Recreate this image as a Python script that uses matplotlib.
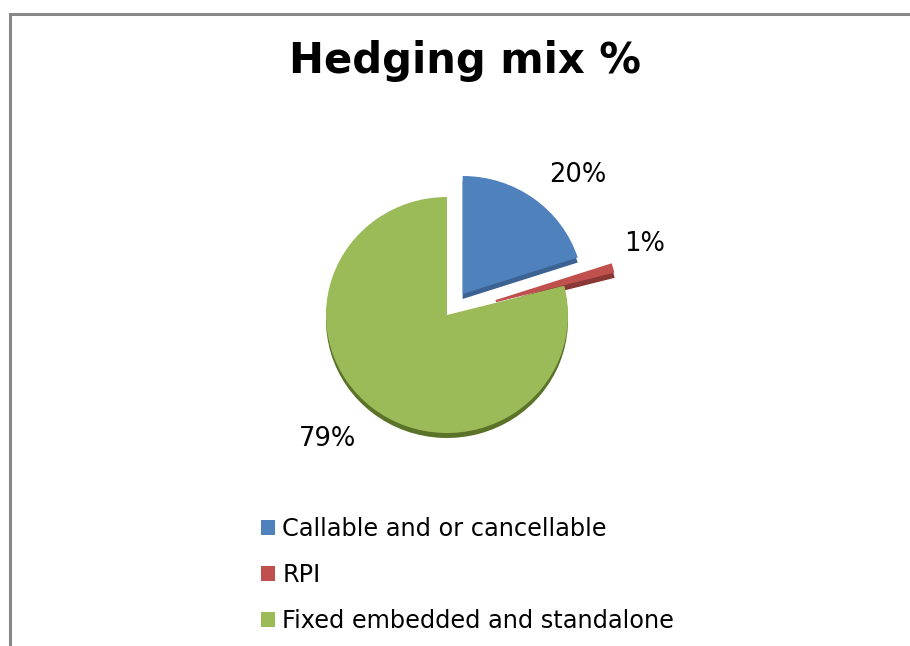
import matplotlib
matplotlib.use("Agg")
import matplotlib.pyplot as plt
from matplotlib.patches import Rectangle, Patch

# Chart data
title = "Hedging mix %"
categories = ["Callable and or cancellable", "RPI", "Fixed embedded and standalone"]
shares = [20, 1, 79]
value_labels = ["20%", "1%", "79%"]

# Styling
colors = ["#4F81BD", "#C0504D", "#9BBB59"]
side_colors = ["#3B6291", "#8A3835", "#5B7329"]
explode = [0.22, 0.42, 0.0]
label_pos = [(1.08, 1.19), (1.63, 0.60), (-0.99, -1.05)]

W, H = 910, 646
fig = plt.figure(figsize=(W / 100, H / 100), dpi=100)
fig.patch.set_facecolor("white")

# Chart-area frame (only top and left edges fall inside the image)
fig.patches.append(Rectangle((9.5 / W, -0.1), 1.2, (H - 13.5) / H + 0.1,
                             transform=fig.transFigure, fill=False,
                             edgecolor="#878787", linewidth=2.2, clip_on=False))

# Title
fig.text(465 / W, 1 - 61 / H, title, ha="center", va="center",
         fontsize=30, fontweight="bold", family="DejaVu Sans", color="black")

# Pie axes: centre at (447, 315) px, 121 px per unit horizontally, 118 vertically
cx, cy = 447, 315
sx, sy = 121, 118
span = 2.0
ax = fig.add_axes([(cx - span * sx) / W, (H - cy - span * sy) / H,
                   2 * span * sx / W, 2 * span * sy / H])

# Side faces (thickness) drawn slightly below, then top faces
depth = 5 / sy
side_wedges, _ = ax.pie(shares, explode=explode, colors=side_colors,
                        startangle=90, counterclock=False, center=(0, -depth),
                        wedgeprops=dict(linewidth=0))
top_wedges, _ = ax.pie(shares, explode=explode, colors=colors, startangle=90,
                       counterclock=False, center=(0, 0),
                       wedgeprops=dict(linewidth=0))
# the thin RPI slice gets an outline in its own colour so it reads as a bar
side_wedges[1].set_edgecolor(side_colors[1])
side_wedges[1].set_linewidth(2.0)
top_wedges[1].set_edgecolor(colors[1])
top_wedges[1].set_linewidth(1.6)

ax.set_aspect("auto")
ax.set_xlim(-span, span)
ax.set_ylim(-span, span)
ax.axis("off")

for txt, (x, y) in zip(value_labels, label_pos):
    ax.text(x, y, txt, ha="center", va="center", fontsize=18.5,
            family="DejaVu Sans", color="black")

# Legend
handles = [Patch(facecolor=c, edgecolor="none") for c in colors]
fig.legend(handles, categories, loc="center left",
           bbox_to_anchor=(261 / W, 1 - 575 / H), frameon=False,
           borderpad=0, borderaxespad=0,
           handlelength=0.58, handleheight=0.58, handletextpad=0.3,
           labelspacing=0.92, prop=dict(family="DejaVu Sans", size=17.3))

fig.savefig("out.png", dpi=100, facecolor="white")
